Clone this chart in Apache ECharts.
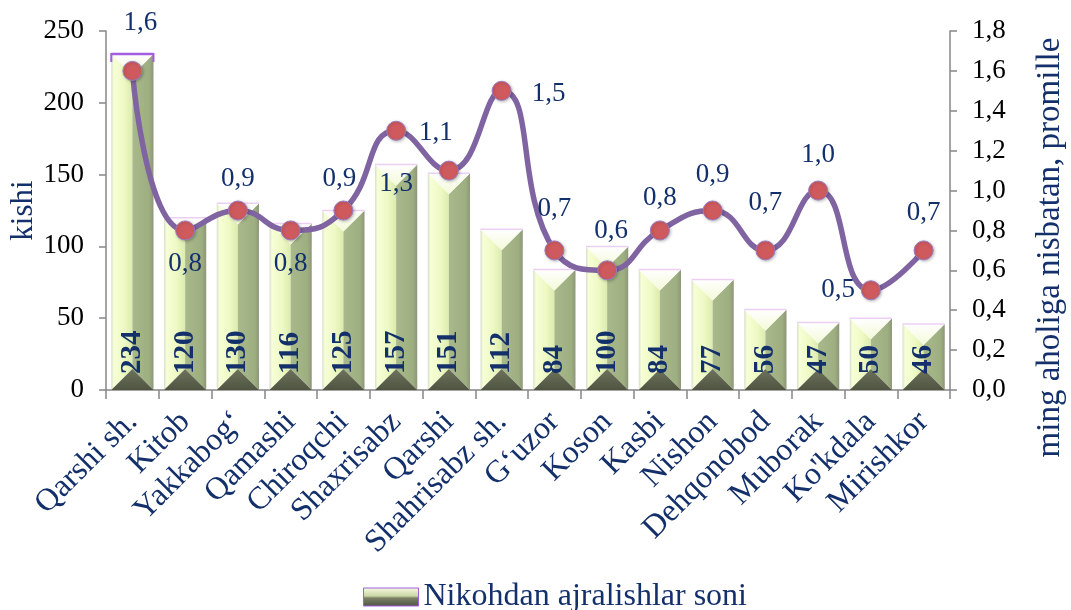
<!DOCTYPE html>
<html>
<head>
<meta charset="utf-8">
<script src="https://cdn.jsdelivr.net/npm/echarts@6/dist/echarts.min.js"></script>
<style>
  html, body { margin: 0; padding: 0; background: #fff; }
  #chart { width: 1071px; height: 610px; }
</style>
</head>
<body>
<div id="chart"></div>
<script>
// kategoriyalar (tumanlar)
var categories = ['Qarshi sh.', 'Kitob', 'Yakkabog‘', 'Qamashi', 'Chiroqchi', 'Shaxrisabz', 'Qarshi',
    'Shahrisabz sh.', 'G‘uzor', 'Koson', 'Kasbi', 'Nishon', 'Dehqonobod', 'Muborak', "Ko'kdala", 'Mirishkor'];
// nikohdan ajralishlar soni, kishi
var divorceCounts = [234, 120, 130, 116, 125, 157, 151, 112, 84, 100, 84, 77, 56, 47, 50, 46];
// ming aholiga nisbatan, promille
var ratePerMille = [1.6, 0.8, 0.9, 0.8, 0.9, 1.3, 1.1, 1.5, 0.7, 0.6, 0.8, 0.9, 0.7, 1.0, 0.5, 0.7];
var leftTicks = [0, 50, 100, 150, 200, 250];
var rightTicks = [0, 0.2, 0.4, 0.6, 0.8, 1.0, 1.2, 1.4, 1.6, 1.8];

var barName = 'Nikohdan ajralishlar soni';
var rateName = 'Promille';
var serif = '"Liberation Serif", "Times New Roman", serif';
var navy = '#14306b';

// chiziq yorliqlari joylashuvi
var rateLabelLayout = [
    {position: 'top', distance: 24, offset: [8, 0]},
    {position: 'bottom', distance: 10},
    {position: 'top', distance: 8},
    {position: 'bottom', distance: 10},
    {position: 'top', distance: 8, offset: [-4, 0]},
    {position: 'bottom', distance: 30},
    {position: 'top', distance: 14, offset: [-13, 0]},
    {position: 'right', distance: 20, offset: [0, 3]},
    {position: 'top', distance: 18},
    {position: 'top', distance: 16, offset: [4, 0]},
    {position: 'top', distance: 9},
    {position: 'top', distance: 12},
    {position: 'top', distance: 24},
    {position: 'top', distance: 12},
    {position: 'left', distance: 6},
    {position: 'top', distance: 14}
];

function comma(v) {
    return Number(v).toFixed(1).replace('.', ',');
}

function grad(x1, y1, x2, y2, stops) {
    return new echarts.graphic.LinearGradient(x1, y1, x2, y2, stops.map(function (s) {
        return {offset: s[0], color: s[1]};
    }));
}

var barData = divorceCounts.map(function (v, i) { return [i, v]; });
var rateData = ratePerMille.map(function (v, i) {
    var l = rateLabelLayout[i];
    return {value: v, label: {position: l.position, distance: l.distance, offset: l.offset || [0, 0]}};
});

// "bevel" ko'rinishidagi ustun
function renderBevelBar(params, api) {
    var idx = api.value(0);
    var val = api.value(1);
    var top = api.coord([idx, val]);
    var base = api.coord([idx, 0]);
    var bw = api.size([1, 0])[0] * 0.8;
    var x0 = top[0] - bw / 2, x1 = top[0] + bw / 2, xm = top[0];
    var yT = top[1], yB = base[1];
    var h = Math.min(bw / 2, (yB - yT) / 2);
    var children = [
        {type: 'polygon', shape: {points: [[x0, yT], [xm, yT + h], [xm, yB - h], [x0, yB]]},
            style: {fill: grad(0, 0, 1, 0, [[0, '#d9dccd'], [0.12, '#f6ffd6'], [0.6, '#eef9c4'], [1, '#dcebae']])}},
        {type: 'polygon', shape: {points: [[x1, yT], [xm, yT + h], [xm, yB - h], [x1, yB]]},
            style: {fill: grad(0, 0, 1, 0, [[0, '#a9b98b'], [0.8, '#9dae80'], [1, '#8e9679']])}},
        {type: 'polygon', shape: {points: [[x0, yT], [x1, yT], [xm, yT + h]]},
            style: {fill: grad(0, 0, 0, 1, [[0, '#ffffff'], [1, '#f3fad8']])}},
        {type: 'polygon', shape: {points: [[x0, yB], [x1, yB], [xm, yB - h]]},
            style: {fill: grad(0, 0, 0, 1, [[0, '#6e735c'], [1, '#4f5442']])}},
        {type: 'line', shape: {x1: x0, y1: yT, x2: x1, y2: yT},
            style: {stroke: idx === 0 ? '#a35ee0' : '#ecd0f4', lineWidth: idx === 0 ? 2.5 : 1.5}},
        {type: 'text', x: xm, y: yB - 16, rotation: Math.PI / 2,
            style: {text: String(val), textAlign: 'left', textVerticalAlign: 'middle',
                font: 'bold 29px ' + serif, fill: navy}}
    ];
    if (idx === 0) {
        children.push({type: 'polyline', shape: {points: [[x0, yT + 8], [x0, yT], [x1, yT], [x1, yT + 8]]},
            style: {stroke: '#a35ee0', lineWidth: 2, fill: null}});
    }
    return {type: 'group', children: children};
}

var myChart = echarts.init(document.getElementById('chart'));
var option = {
    animation: false,
    backgroundColor: '#ffffff',
    textStyle: {fontFamily: serif},
    grid: {left: 106, right: 121, top: 31, bottom: 220, containLabel: false, outerBoundsMode: 'none'},
    legend: {
        left: 358,
        top: 576,
        itemWidth: 55,
        itemHeight: 18,
        data: [{
            name: barName,
            icon: 'rect',
            itemStyle: {
                color: grad(0, 0, 0, 1, [[0, '#f8fbe4'], [0.45, '#c9d6a4'], [0.55, '#7c8266'], [1, '#4f5442']]),
                borderColor: '#a35ee0',
                borderWidth: 1
            }
        }],
        textStyle: {fontFamily: serif, fontSize: 32, color: navy}
    },
    xAxis: {
        type: 'category',
        data: categories,
        boundaryGap: true,
        axisLine: {lineStyle: {color: '#878787', width: 1.5}},
        axisTick: {show: true, length: 9, lineStyle: {color: '#878787', width: 1.5}},
        axisLabel: {rotate: 45, margin: 27, interval: 0, fontFamily: serif, fontSize: 32, color: navy},
        splitLine: {show: false}
    },
    yAxis: [{
        type: 'value',
        min: leftTicks[0],
        max: leftTicks[leftTicks.length - 1],
        interval: 50,
        name: 'kishi',
        nameLocation: 'middle',
        nameGap: 67,
        nameMoveOverlap: false,
        nameTextStyle: {fontFamily: serif, fontSize: 31, color: navy},
        axisLine: {show: true, lineStyle: {color: '#878787', width: 1.5}},
        axisTick: {show: true, length: 7, lineStyle: {color: '#878787', width: 1.5}},
        axisLabel: {fontFamily: serif, fontSize: 27, color: '#000', margin: 22},
        splitLine: {show: false}
    }, {
        type: 'value',
        min: rightTicks[0],
        max: rightTicks[rightTicks.length - 1],
        interval: 0.2,
        name: 'ming aholiga nisbatan, promille',
        nameLocation: 'middle',
        nameRotate: 90,
        nameGap: 84,
        nameMoveOverlap: false,
        nameTextStyle: {fontFamily: serif, fontSize: 33, color: navy, padding: [0, 74, 0, 0]},
        axisLine: {show: true, lineStyle: {color: '#878787', width: 1.5}},
        axisTick: {show: true, length: 7, lineStyle: {color: '#878787', width: 1.5}},
        axisLabel: {fontFamily: serif, fontSize: 27, color: '#000', margin: 22, formatter: comma},
        splitLine: {show: false}
    }],
    series: [{
        name: barName,
        type: 'custom',
        yAxisIndex: 0,
        renderItem: renderBevelBar,
        encode: {x: 0, y: 1},
        data: barData,
        z: 2
    }, {
        name: rateName,
        type: 'line',
        yAxisIndex: 1,
        data: rateData,
        smooth: 0.5,
        symbol: 'circle',
        symbolSize: 19,
        lineStyle: {color: '#8064a2', width: 5.5},
        itemStyle: {color: '#cf5a5e', borderColor: '#9a7cc4', borderWidth: 1,
            shadowColor: 'rgba(0,0,0,0.25)', shadowBlur: 3, shadowOffsetX: 1, shadowOffsetY: 1},
        label: {show: true, fontFamily: serif, fontSize: 27, color: navy,
            formatter: function (p) { return comma(p.value); }},
        z: 5
    }]
};
myChart.setOption(option);
</script>
</body>
</html>
